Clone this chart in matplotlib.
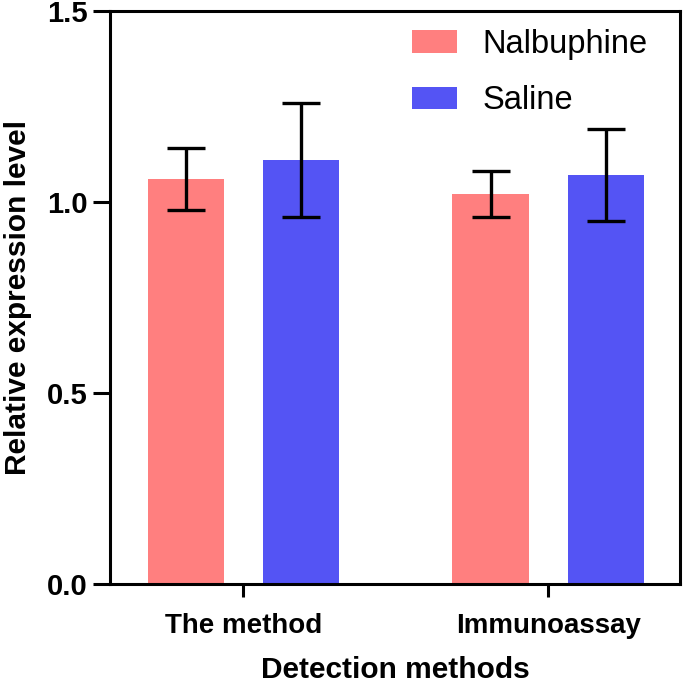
import numpy as np
import matplotlib.pyplot as plt

# data
methods = ['The method', 'Immunoassay']
groups = ['Nalbuphine', 'Saline']
nalbuphine_mean = [1.06, 1.02]
nalbuphine_err = [0.08, 0.06]
saline_mean = [1.11, 1.07]
saline_err = [0.15, 0.12]
yticks = [0.0, 0.5, 1.0, 1.5]

plt.rcParams['font.family'] = ['Liberation Sans', 'DejaVu Sans']

fig = plt.figure(figsize=(6.85, 6.84), dpi=100)
ax = fig.add_axes([0.1606, 0.1462, 0.8321, 0.8378])

x = np.arange(len(methods))
w = 0.25
off = 0.189
ekw = dict(elinewidth=2.4, capthick=2.4, ecolor='black')
ax.bar(x - off, nalbuphine_mean, w, yerr=nalbuphine_err, capsize=13.5,
       color='#FF7F7F', label=groups[0], error_kw=ekw)
ax.bar(x + off, saline_mean, w, yerr=saline_err, capsize=13.5,
       color='#5454F4', label=groups[1], error_kw=ekw)

ax.set_xlim(-0.438, 1.433)
ax.set_ylim(0, 1.5)
ax.set_yticks(yticks)
ax.set_yticklabels(['%.1f' % v for v in yticks])
ax.set_xticks(x)
ax.set_xticklabels(methods)

for s in ax.spines.values():
    s.set_linewidth(2.2)
ax.tick_params(axis='y', length=12, width=2.2, labelsize=21, pad=4)
ax.tick_params(axis='x', length=9, width=2.2, labelsize=20, pad=12)
for lab in ax.get_xticklabels() + ax.get_yticklabels():
    lab.set_fontweight('bold')

ax.set_xlabel('Detection methods', fontsize=21.5, fontweight='bold', labelpad=12)
ax.set_ylabel('Relative expression level', fontsize=21.5, fontweight='bold', labelpad=11)

ax.legend(loc='upper right', bbox_to_anchor=(0.995, 1.02), frameon=False,
          fontsize=23.5, handlelength=1.35, handleheight=0.68, handletextpad=0.8,
          labelspacing=0.78)

fig.savefig('out.png', dpi=100)
